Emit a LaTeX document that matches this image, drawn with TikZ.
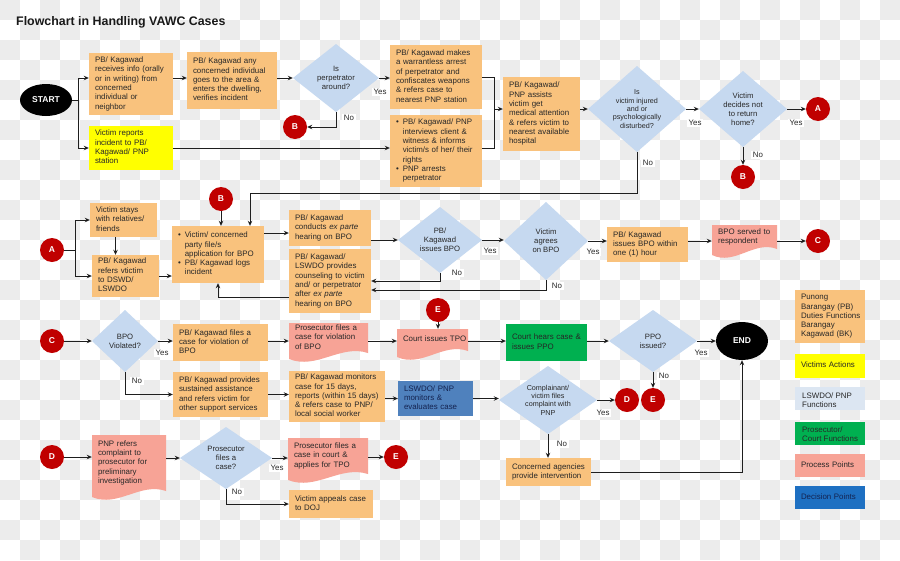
\documentclass[tikz,border=0pt]{standalone}
\usepackage{fontspec}
\setmainfont{Liberation Sans}
\usetikzlibrary{shapes.geometric,arrows.meta}
\definecolor{orng}{RGB}{249,194,125}
\definecolor{yel}{RGB}{255,255,0}
\definecolor{lblue}{RGB}{198,217,240}
\definecolor{leglb}{RGB}{220,230,242}
\definecolor{salm}{RGB}{247,163,150}
\definecolor{grn}{RGB}{0,176,80}
\definecolor{blu}{RGB}{79,129,189}
\definecolor{blu2}{RGB}{30,112,194}
\definecolor{redc}{RGB}{192,0,0}
\definecolor{chk}{RGB}{236,236,236}
\definecolor{txt}{RGB}{40,40,40}
\definecolor{lnc}{RGB}{30,30,30}
\definecolor{navy}{RGB}{20,35,80}
\newcommand{\myfs}{\fontsize{7.9}{9.3}\selectfont}
\newcommand{\mydfs}{\fontsize{7.7}{9}\selectfont}
\newcommand{\mydfss}{\fontsize{7.2}{8.4}\selectfont}
\newcommand{\tlines}[1]{\begin{tabular}{@{}l@{}}#1\end{tabular}}
\newcommand{\blines}[1]{\begin{tabular}{@{}l@{\hspace{4pt}}l@{}}#1\end{tabular}}
\newcommand{\mybox}[7]{%
 \pgfmathsetmacro{\myw}{#5-#3}%
 \pgfmathsetmacro{\myh}{#6-#4}%
 \pgfmathsetmacro{\mytw}{#5-#3-12}%
 \pgfmathsetmacro{\mycx}{(#3+#5)/2}%
 \pgfmathsetmacro{\mycy}{(#4+#6)/2}%
 \node[#1, minimum width=\myw pt, minimum height=\myh pt, text width=\mytw pt] (#2) at (\mycx,\mycy) {#7};}
\newcommand{\mydia}[7]{%
 \fill[lblue] ({#3-#5/2},#4) -- (#3,{#4-#6/2}) -- ({#3+#5/2},#4) -- (#3,{#4+#6/2}) -- cycle;
 \node[#1, minimum width=#5pt, minimum height=#6pt] (#2) at (#3,#4) {#7};}
\newcommand{\mydoc}[6]{%
 \fill[salm] (#2,#3) -- (#4,#3) -- (#4,{#5-9}) .. controls ({#4-0.35*(#4-#2)},{#5-18}) and ({#2+0.35*(#4-#2)},{#5+8}) .. (#2,{#5-3}) -- cycle;
 \mybox{doctxt}{#1}{#2}{#3}{#4}{#5-9}{#6}}
\begin{document}
\begin{tikzpicture}[x=1pt,y=-1pt,
 every node/.style={text=txt},
 box/.style={rectangle, fill=orng, inner xsep=6pt, inner ysep=2pt, font=\myfs, align=left},
 ybox/.style={box, fill=yel},
 gbox/.style={box, fill=grn, text=black!85},
 bbox/.style={box, fill=blu, text=navy},
 doctxt/.style={rectangle, inner xsep=6pt, inner ysep=2pt, font=\myfs, align=left},
 diatxt/.style={rectangle, inner sep=0pt, align=center, font=\mydfs},
 diatxts/.style={diatxt, font=\mydfss},
 circ/.style={circle, fill=redc, text=white, font=\bfseries\fontsize{8.5}{10}\selectfont, minimum size=24pt, inner sep=0pt},
 ell/.style={ellipse, fill=black, text=white, font=\bfseries\fontsize{8.5}{10}\selectfont, inner sep=0pt},
 lbl/.style={fill=white, inner sep=1.5pt, font=\myfs},
 legbox/.style={box, inner xsep=6pt},
 legtxt/.style={inner sep=0pt, font=\myfs, align=left},
 ln/.style={draw=lnc, line width=0.9pt},
 arr/.style={ln, -{Stealth[length=5pt,width=4.5pt]}}
]
\useasboundingbox (0,0) rectangle (900,560);
% checkerboard background
\fill[white] (0,0) rectangle (900,560);
\foreach \i in {0,2,...,44}{\foreach \j in {0,2,...,26}{
 \fill[chk] (\i*20,\j*20) rectangle ++(20,20);
 \fill[chk] ({(\i+1)*20},{(\j+1)*20}) rectangle ++(20,20);}}
% title
\node[font=\bfseries\fontsize{12.4}{14}\selectfont, anchor=west, inner sep=0pt, text=black!90] (title) at (16,22) {Flowchart in Handling VAWC Cases};
% ---------- row 1
\node[ell, minimum width=52pt, minimum height=32pt] (start) at (46,100) {START};
\mybox{box}{b1}{89}{53}{173}{115}{\tlines{PB/ Kagawad\\receives info (orally\\or in writing) from\\concerned\\individual or\\neighbor}}
\mybox{box}{b2}{187}{52}{277}{109}{\tlines{PB/ Kagawad any\\concerned individual\\goes to the area \&\\enters the dwelling,\\verifies incident}}
\mybox{ybox}{yel}{89}{126}{173}{170}{\tlines{Victim reports\\incident to PB/\\Kagawad/ PNP\\station}}
\mydia{diatxt}{d1}{336}{78}{86}{68}{Is\\perpetrator\\around?}
\mybox{box}{b3}{390}{45}{482}{109}{\tlines{PB/ Kagawad makes\\a warrantless arrest\\of perpetrator and\\confiscates weapons\\\& refers case to\\nearest PNP station}}
\mybox{box}{b4}{390}{115}{482}{187}{\blines{\textbullet & PB/ Kagawad/ PNP\\ & interviews client \&\\ & witness \& informs\\ & victim/s of her/ their\\ & rights\\ \textbullet & PNP arrests\\ & perpetrator}}
\mybox{box}{b5}{503}{77}{580}{151}{\tlines{PB/ Kagawad/\\PNP assists\\victim get\\medical attention\\\& refers victim to\\nearest available\\hospital}}
\mydia{diatxts}{d2}{637}{109}{98}{86}{Is\\victim injured\\and or\\psychologically\\disturbed?}
\mydia{diatxt}{d3}{743}{109}{88}{76}{Victim\\decides not\\to return\\home?}
\node[circ] (B1) at (295,127) {B};
\node[circ] (A1) at (818,109) {A};
\node[circ] (B2) at (743,177) {B};
% ---------- row 2
\node[circ] (A2) at (52,250) {A};
\node[circ] (B3) at (221,199) {B};
\mybox{box}{vs}{90}{203}{157}{237}{\tlines{Victim stays\\with relatives/\\friends}}
\mybox{box}{ref}{92}{255}{159}{297}{\tlines{PB/ Kagawad\\refers vtictim\\to DSWD/\\LSWDO}}
\mybox{box}{big}{172}{226}{264}{283}{\blines{\textbullet & Victim/ concerned\\ & party file/s\\ & application for BPO\\ \textbullet & PB/ Kagawad logs\\ & incident}}
\mybox{box}{cond}{289}{210}{371}{246}{\tlines{PB/ Kagawad\\conducts \textit{ex parte}\\hearing on BPO}}
\mybox{box}{couns}{289}{249}{371}{313}{\tlines{PB/ Kagawad/\\LSWDO provides\\counseling to victim\\and/ or perpetrator\\after \textit{ex parte}\\hearing on BPO}}
\mydia{diatxt}{d4}{440}{240}{84}{66}{PB/\\Kagawad\\issues BPO}
\mydia{diatxt}{d5}{546}{241}{84}{78}{Victim\\agrees\\on BPO}
\mybox{box}{iss}{607}{227}{688}{262}{\tlines{PB/ Kagawad\\issues BPO within\\one (1) hour}}
\mydoc{served}{712}{225}{777}{258}{\tlines{BPO served to\\respondent}}
\node[circ] (C1) at (818,241) {C};
% ---------- row 3
\node[circ] (C2) at (52,341) {C};
\mydia{diatxt}{d6}{125}{341}{66}{62}{BPO\\Violated?}
\mybox{box}{files}{173}{324}{268}{361}{\tlines{PB/ Kagawad files a\\case for violation of\\BPO}}
\mybox{box}{sust}{173}{372}{268}{417}{\tlines{PB/ Kagawad provides\\sustained assistance\\and refers victim for\\other support services}}
\mydoc{pros1}{289}{323}{368}{362}{\tlines{Prosecutor files a\\case for violation\\of BPO}}
\mydoc{tpo}{397}{329}{468}{360}{\tlines{Court issues TPO}}
\node[circ] (E1) at (438,310) {E};
\mybox{gbox}{green}{506}{324}{587}{361}{\tlines{Court hears case \&\\issues PPO}}
\mydia{diatxt}{d7}{653}{341}{88}{62}{PPO\\issued?}
\node[ell, minimum width=52pt, minimum height=38pt] (end) at (742,341) {END};
\mybox{box}{mon}{289}{371}{385}{422}{\tlines{PB/ Kagawad monitors\\case for 15 days,\\reports (within 15 days)\\\& refers case to PNP/\\local social worker}}
\mybox{bbox}{blue}{398}{381}{473}{416}{\tlines{LSWDO/ PNP\\monitors \&\\evaluates case}}
\mydia{diatxts}{d8}{548}{400}{98}{68}{Complainant/\\victim files\\complaint with\\PNP}
\node[circ] (D1) at (627,400) {D};
\node[circ] (E2) at (653,400) {E};
\mybox{box}{conc}{506}{458}{591}{486}{\tlines{Concerned agencies\\provide intervention}}
% ---------- row 4
\node[circ] (D2) at (52,457) {D};
\mydoc{pnp}{92}{435}{166}{500}{\tlines{PNP refers\\complaint to\\prosecutor for\\preliminary\\investigation}}
\mydia{diatxt}{d9}{226}{458}{92}{62}{Prosecutor\\files a\\case?}
\mydoc{pc}{288}{438}{368}{483}{\tlines{Prosecutor files a\\case in court \&\\applies for TPO}}
\node[circ] (E3) at (396,457) {E};
\mybox{box}{app}{289}{490}{373}{518}{\tlines{Victim appeals case\\to DOJ}}
% ---------- legend
\mybox{legbox}{L1}{795}{290}{865}{343}{\tlines{Punong\\Barangay (PB)\\Duties Functions\\Barangay\\Kagawad (BK)}}
\mybox{legbox, fill=yel}{L2}{795}{354}{865}{378}{\tlines{Victims Actions}}
\mybox{legbox, fill=leglb}{L3}{795}{387}{865}{410}{}
\begin{scope}
\clip (795,387) rectangle (865,406.5);
\node[legtxt, anchor=north west] (L3t) at (802,391.3) {\tlines{LSWDO/ PNP\\Functions}};
\end{scope}
\mybox{legbox, fill=grn}{L4}{795}{422}{865}{445}{}
\begin{scope}
\clip (795,422) rectangle (865,441);
\node[legtxt, anchor=north west] (L4t) at (802,425.3) {\tlines{Prosecutor/\\Court Functions}};
\end{scope}
\mybox{legbox, fill=salm}{L5}{795}{454}{865}{477}{\tlines{Process Points}}
\mybox{legbox, fill=blu2, text=navy}{L6}{795}{486}{865}{509}{\tlines{Decision Points}}
% ---------- labels
\node[lbl] (yes1) at (380,92) {Yes};
\node[lbl] (no1) at (349,118) {No};
\node[lbl] (yes2) at (695,123) {Yes};
\node[lbl] (yes3) at (796,123) {Yes};
\node[lbl] (no2) at (758,155) {No};
\node[lbl] (no3) at (648,163) {No};
\node[lbl] (yes4) at (490,251) {Yes};
\node[lbl] (no4) at (457,273) {No};
\node[lbl] (no5) at (557,286) {No};
\node[lbl] (yes5) at (593,252) {Yes};
\node[lbl] (yes6) at (162,353) {Yes};
\node[lbl] (no6) at (137,381) {No};
\node[lbl] (yes7) at (701,353) {Yes};
\node[lbl] (no7) at (664,376) {No};
\node[lbl] (yes8) at (603,413) {Yes};
\node[lbl] (no8) at (562,444) {No};
\node[lbl] (yes9) at (277,468) {Yes};
\node[lbl] (no9) at (237,492) {No};
% ---------- connectors row 1
\coordinate (j1) at (78,100);
\draw[ln] (start.east) -- (j1);
\draw[arr] (j1) |- (b1.west |- d1.west);
\draw[arr] (j1) |- (yel.west);
\draw[arr] (b1.east |- d1.west) -- (b2.west |- d1.west);
\draw[arr] (b2.east |- d1.west) -- (d1.west);
\draw[arr] (d1.east) -- (b3.west |- d1.east);
\draw[arr] (d1.south) |- (B1.east);
\draw[arr] (yel.east) -- (b4.west |- yel.east);
\coordinate (m1) at (494,109);
\draw[ln] (b3.east) -| (m1);
\draw[ln] (b4.east |- yel.east) -| (m1);
\draw[arr] (m1) -- (b5.west |- m1);
\draw[arr] (b5.east |- d2.west) -- (d2.west);
\draw[arr] (d2.east) -- (d3.west);
\draw[arr] (d3.east) -- (A1.west);
\draw[arr] (d3.south) -- (B2.north);
\coordinate (c2) at (250,193);
\draw[arr] (d2.south) |- (c2) -- (c2 |- big.north);
% row 2
\coordinate (j2) at (75,250);
\draw[ln] (A2.east) -- (j2);
\draw[arr] (j2) |- (vs.west);
\draw[arr] (j2) |- (ref.west);
\draw[arr] ([xshift=-8pt]vs.south) -- ([xshift=-8pt]vs.south |- ref.north);
\draw[arr] (ref.east) -- (big.west |- ref.east);
\draw[arr] (B3.south) -- (B3.south |- big.north);
\coordinate (cw) at ([yshift=-5pt]cond.west);
\draw[arr] (big.east |- cw) -- (cw);
\draw[arr] ([yshift=-16pt]couns.west) -| (big.south);
\draw[arr] (cond.east |- d4.west) -- (d4.west);
\draw[arr] (d4.east) -- (d5.west |- d4.east);
\draw[arr] (d4.south) |- (couns.east);
\draw[arr] (d5.south) |- ([yshift=-9pt]couns.east);
\draw[arr] (d5.east) -- (iss.west |- d5.east);
\draw[arr] (iss.east |- d5.east) -- (served.west |- d5.east);
\draw[arr] (served.east |- C1.west) -- (C1.west);
% row 3
\draw[arr] (C2.east) -- (d6.west);
\draw[arr] (d6.east) -- (files.west |- d6.east);
\draw[arr] (d6.south) |- (sust.west);
\draw[arr] (files.east |- d6.east) -- (pros1.west |- d6.east);
\draw[arr] (pros1.east |- d6.east) -- (tpo.west |- d6.east);
\draw[arr] (tpo.east |- d6.east) -- (green.west |- d6.east);
\draw[arr] (green.east |- d7.west) -- (d7.west);
\draw[arr] (E1.south) -- (E1.south |- tpo.north);
\draw[arr] (d7.east) -- (end.west);
\draw[arr] (d7.south) -- (E2.north);
\draw[arr] (sust.east) -- (mon.west |- sust.east);
\draw[arr] (mon.east |- blue.west) -- (blue.west);
\draw[arr] (blue.east) -- (d8.west |- blue.east);
\draw[arr] (d8.east) -- (D1.west |- d8.east);
\draw[arr] (d8.south) -- (d8.south |- conc.north);
\draw[arr] (conc.east) -| (end.south);
% row 4
\draw[arr] (D2.east) -- (pnp.west |- D2.east);
\draw[arr] (pnp.east |- d9.west) -- (d9.west);
\draw[arr] (d9.east) -- (pc.west |- d9.east);
\draw[arr] (pc.east |- E3.west) -- (E3.west);
\draw[arr] (d9.south) |- (app.west);
\end{tikzpicture}
\end{document}
